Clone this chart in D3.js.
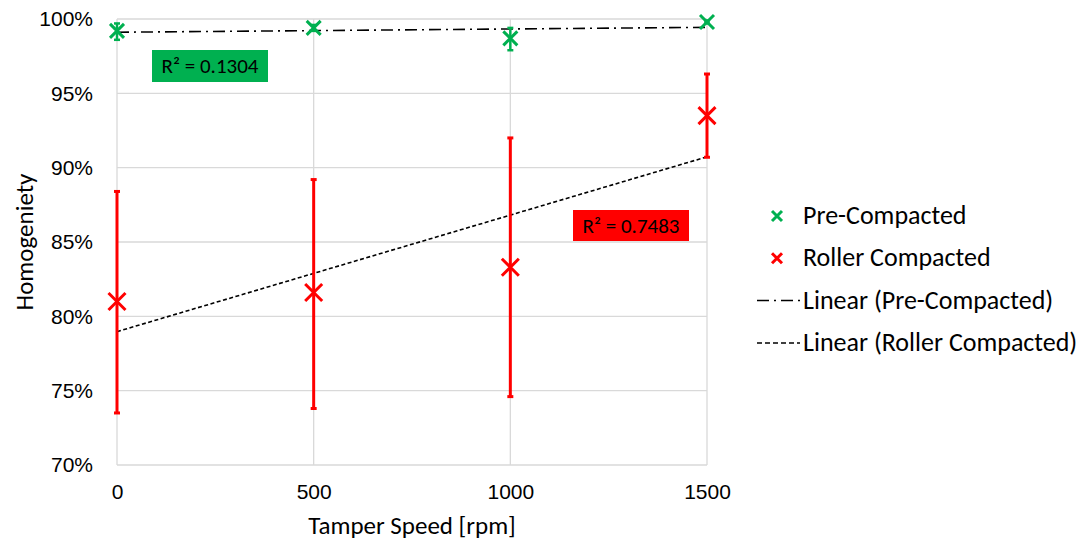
<!DOCTYPE html>
<html>
<head>
<meta charset="utf-8">
<script src="https://cdn.jsdelivr.net/npm/d3@7"></script>
<style>
  body { margin: 0; background: #fff; }
  svg { font-family: Carlito, Lato, "Open Sans", sans-serif; }
</style>
</head>
<body>
<div id="chart"></div>
<script>
// data
var speeds = [0, 500, 1000, 1500];
var preCompacted = [0.992, 0.994, 0.987, 0.998];
var preLow = [0.986, 0.992, 0.979, 0.997];
var preHigh = [0.997, 0.996, 0.994, 0.999];
var rollerCompacted = [0.810, 0.816, 0.833, 0.935];
var rollerLow = [0.735, 0.738, 0.746, 0.907];
var rollerHigh = [0.884, 0.892, 0.920, 0.963];
var yTicks = [0.70, 0.75, 0.80, 0.85, 0.90, 0.95, 1.00];
var xTicks = [0, 500, 1000, 1500];
var r2Labels = ['R² = 0.1304', 'R² = 0.7483'];

var width = 1084, height = 545;
var margin = {top: 19, right: 377, bottom: 80, left: 117};

var svg = d3.select('#chart').append('svg')
    .attr('width', width)
    .attr('height', height);

var x = d3.scaleLinear().domain([0, 1500]).range([margin.left, width - margin.right]);
var y = d3.scaleLinear().domain([0.70, 1.00]).range([height - margin.bottom, margin.top]);

var green = '#00b050', red = '#ff0000';

// grid
svg.append('g').selectAll('line').data(yTicks).enter().append('line')
    .attr('x1', x(0)).attr('x2', x(1500))
    .attr('y1', d => y(d)).attr('y2', d => y(d))
    .attr('stroke', '#d9d9d9').attr('stroke-width', 1.3);
svg.append('g').selectAll('line').data(xTicks).enter().append('line')
    .attr('x1', d => x(d)).attr('x2', d => x(d))
    .attr('y1', y(0.70)).attr('y2', y(1.00))
    .attr('stroke', '#d9d9d9').attr('stroke-width', 1.3);

// axes labels
var yAxis = svg.append('g')
    .attr('transform', 'translate(' + (x(0) - 21) + ',0)')
    .call(d3.axisLeft(y).tickValues(yTicks).tickSize(0).tickFormat(d3.format('.0%')));
yAxis.select('.domain').remove();
yAxis.selectAll('text').attr('font-size', 21).attr('fill', '#000').attr('font-family', 'inherit').attr('dx', 0);

var xAxis = svg.append('g')
    .attr('transform', 'translate(0,' + (y(0.70) + 16) + ')')
    .call(d3.axisBottom(x).tickValues(xTicks).tickSize(0).tickFormat(d3.format('d')));
xAxis.select('.domain').remove();
xAxis.selectAll('text').attr('font-size', 21).attr('fill', '#000').attr('font-family', 'inherit');

svg.append('text')
    .attr('transform', 'translate(33,' + y(0.85) + ') rotate(-90)')
    .attr('text-anchor', 'middle')
    .attr('font-size', 25)
    .text('Homogeniety');

svg.append('text')
    .attr('x', x(750))
    .attr('y', 534)
    .attr('text-anchor', 'middle')
    .attr('font-size', 25)
    .text('Tamper Speed [rpm]');

// linear trendlines
function linfit(xs, ys) {
    var mx = d3.mean(xs), my = d3.mean(ys);
    var sxy = d3.sum(xs, (v, i) => (v - mx) * (ys[i] - my));
    var sxx = d3.sum(xs, v => (v - mx) * (v - mx));
    var b = sxy / sxx;
    return {b: b, a: my - b * mx};
}
var fitPre = linfit(speeds, preCompacted);
var fitRoll = linfit(speeds, rollerCompacted);

svg.append('line')
    .attr('x1', x(0)).attr('x2', x(1500))
    .attr('y1', y(fitPre.a)).attr('y2', y(fitPre.a + fitPre.b * 1500))
    .attr('stroke', '#000').attr('stroke-width', 1.6)
    .attr('stroke-dasharray', '12,5,2,5');

svg.append('line')
    .attr('x1', x(0)).attr('x2', x(1500))
    .attr('y1', y(fitRoll.a)).attr('y2', y(fitRoll.a + fitRoll.b * 1500))
    .attr('stroke', '#000').attr('stroke-width', 1.6)
    .attr('stroke-dasharray', '4,2.5');

// error bars
function errorBars(lo, hi, color, w, cap) {
    var g = svg.append('g');
    speeds.forEach(function(s, i) {
        g.append('line')
            .attr('x1', x(s)).attr('x2', x(s))
            .attr('y1', y(lo[i])).attr('y2', y(hi[i]))
            .attr('stroke', color).attr('stroke-width', w);
        [lo[i], hi[i]].forEach(function(v) {
            g.append('line')
                .attr('x1', x(s) - cap).attr('x2', x(s) + cap)
                .attr('y1', y(v)).attr('y2', y(v))
                .attr('stroke', color).attr('stroke-width', w);
        });
    });
}
errorBars(rollerLow, rollerHigh, red, 3, 3);
errorBars(preLow, preHigh, green, 2.5, 3);

// x markers
function crosses(vals, color, r, w) {
    svg.append('g').selectAll('path').data(vals).enter().append('path')
        .attr('d', function(d, i) {
            var cx = x(speeds[i]), cy = y(d);
            return 'M' + (cx - r) + ',' + (cy - r) + 'L' + (cx + r) + ',' + (cy + r) +
                'M' + (cx - r) + ',' + (cy + r) + 'L' + (cx + r) + ',' + (cy - r);
        })
        .attr('stroke', color).attr('stroke-width', w).attr('fill', 'none');
}
crosses(preCompacted, green, 7, 3);
crosses(rollerCompacted, red, 8.5, 3);

// R² labels
function r2Box(txt, bx, by, bw, bh, fill) {
    svg.append('rect').attr('x', bx).attr('y', by).attr('width', bw).attr('height', bh).attr('fill', fill);
    svg.append('text').attr('x', bx + bw / 2).attr('y', by + bh / 2 + 7)
        .attr('text-anchor', 'middle').attr('font-size', 21).text(txt);
}
r2Box(r2Labels[0], 152, 50, 116, 32, green);
r2Box(r2Labels[1], 573, 210, 116, 31, red);

// legend
var legendItems = [
    {name: 'Pre-Compacted', type: 'x', color: green},
    {name: 'Roller Compacted', type: 'x', color: red},
    {name: 'Linear (Pre-Compacted)', type: 'line', dash: '12,5,2,5'},
    {name: 'Linear (Roller Compacted)', type: 'line', dash: '5,3'}
];
var legend = svg.selectAll('.legendItem')
    .data(legendItems)
    .enter().append('g')
        .attr('class', 'legendItem')
        .attr('transform', (d, i) => 'translate(757,' + (216 + i * 42.3) + ')');

legend.filter(d => d.type === 'x').append('path')
    .attr('d', 'M15,-5L25,5M15,5L25,-5')
    .attr('stroke', d => d.color).attr('stroke-width', 3).attr('fill', 'none');
legend.filter(d => d.type === 'line').append('line')
    .attr('x1', 0).attr('x2', 43).attr('y1', 0).attr('y2', 0)
    .attr('stroke', '#000').attr('stroke-width', 1.5)
    .attr('stroke-dasharray', d => d.dash);
legend.append('text')
    .attr('x', 46)
    .attr('y', 8)
    .attr('font-size', 26)
    .text(d => d.name);
</script>
</body>
</html>
